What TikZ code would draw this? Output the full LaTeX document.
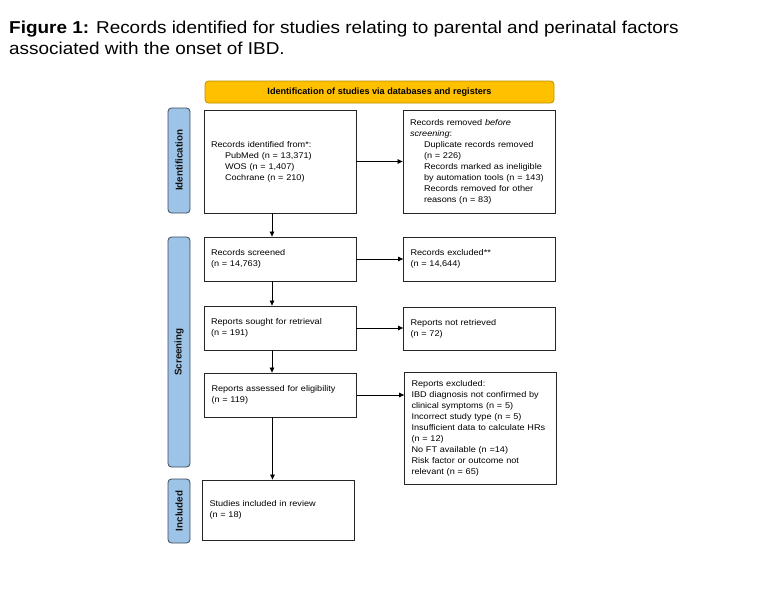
\documentclass[tikz,border=0pt]{standalone}
\usepackage{fontspec}
\setmainfont{Liberation Sans}
\newfontfamily\widesans[FakeStretch=1.1]{Liberation Sans}
\usetikzlibrary{arrows.meta}
\definecolor{prismayellow}{HTML}{FFC000}
\definecolor{prismayellowline}{HTML}{BF9000}
\definecolor{sideblue}{HTML}{9DC3E6}
\definecolor{sidebluel}{HTML}{3A4A5E}
\definecolor{sidetext}{HTML}{111111}
\begin{document}
\begin{tikzpicture}[x=1pt,y=-1pt,
  flowbox/.style={draw=black!85, line width=0.8pt, fill=white, inner xsep=7pt, inner ysep=2pt,
    minimum width=152pt, text width=138pt, align=left,
    font=\widesans\fontsize{8.3}{11}\selectfont},
  sidebar/.style={draw=sidebluel, line width=0.8pt, fill=sideblue, rounded corners=3.5pt,
    minimum width=22pt, inner sep=0pt},
  sidelabel/.style={rotate=90, font=\fontsize{9.8}{10}\selectfont\bfseries, text=sidetext},
  flowarrow/.style={line width=0.7pt, -{Triangle[length=5pt,width=4.5pt]}}
]
\useasboundingbox (0,0) rectangle (783,594);
\fill[white] (0,0) rectangle (783,594);

% caption
\node[anchor=north west, inner sep=0pt, align=left, font=\widesans\fontsize{17.2}{21}\selectfont] (caption) at (9,21)
  {\textbf{Figure 1:} Records identified for studies relating to parental and perinatal factors\\associated with the onset of IBD.};

% header
\node[draw=prismayellowline, fill=prismayellow, line width=0.8pt, rounded corners=3.5pt,
  minimum width=349pt, minimum height=22pt, font=\fontsize{9.1}{10}\selectfont\bfseries] (header) at (379.5,92)
  {Identification of studies via databases and registers};

% side bars
\node[sidebar, minimum height=105pt] (sidA) at (179,160.5) {};
\node[sidelabel] (sidAt) at (sidA.center) {Identification};
\node[sidebar, minimum height=230pt] (sidB) at (179,352) {};
\node[sidelabel] (sidBt) at (sidB.center) {Screening};
\node[sidebar, minimum height=64pt] (sidC) at (179,511) {};
\node[sidelabel] (sidCt) at (sidC.center) {Included};

% left column
\node[flowbox, minimum height=103pt] (ident) at (280,161.5)
  {Records identified from*:\\
   \hspace*{14pt}PubMed (n = 13,371)\\
   \hspace*{14pt}WOS (n = 1,407)\\
   \hspace*{14pt}Cochrane (n = 210)};
\node[flowbox, minimum height=44pt] (screen) at (280,259)
  {Records screened\\(n = 14,763)};
\node[flowbox, minimum height=44pt] (sought) at (280,328)
  {Reports sought for retrieval\\(n = 191)};
\node[flowbox, minimum height=44pt] (assess) at (280.5,395)
  {Reports assessed for eligibility\\(n = 119)};
\node[flowbox, minimum height=60pt] (incl) at (278.5,510)
  {Studies included in review\\(n = 18)};

% right column
\node[flowbox, minimum height=103pt] (removed) at (479,161.5)
  {Records removed \textit{before}\\\textit{screening}:\\
   \hspace*{14pt}Duplicate records removed\\
   \hspace*{14pt}(n = 226)\\
   \hspace*{14pt}Records marked as ineligible\\
   \hspace*{14pt}by automation tools (n = 143)\\
   \hspace*{14pt}Records removed for other\\
   \hspace*{14pt}reasons (n = 83)};
\node[flowbox, minimum height=44pt] (excl) at (479.5,259)
  {Records excluded**\\(n = 14,644)};
\node[flowbox, minimum height=43pt] (notret) at (479.5,328.5)
  {Reports not retrieved\\(n = 72)};
\node[flowbox, minimum height=112pt] (repexcl) at (480.5,428)
  {Reports excluded:\\
   IBD diagnosis not confirmed by\\
   clinical symptoms (n = 5)\\
   Incorrect study type (n = 5)\\
   Insufficient data to calculate HRs\\
   (n = 12)\\
   No FT available (n =14)\\
   Risk factor or outcome not\\
   relevant (n = 65)};

% arrows
\draw[flowarrow] (ident.east) -- (removed.west);
\draw[flowarrow] (screen.east) -- (excl.west |- screen.east);
\draw[flowarrow] (sought.east) -- (notret.west |- sought.east);
\draw[flowarrow] (assess.east) -- (repexcl.west |- assess.east);
\draw[flowarrow] ([xshift=-8pt]ident.south) -- ([xshift=-8pt]ident.south |- screen.north);
\draw[flowarrow] ([xshift=-8pt]screen.south) -- ([xshift=-8pt]screen.south |- sought.north);
\draw[flowarrow] ([xshift=-8pt]sought.south) -- ([xshift=-8pt]sought.south |- assess.north);
\draw[flowarrow] ([xshift=-8pt]assess.south) -- ([xshift=-8pt]assess.south |- incl.north);
\end{tikzpicture}
\end{document}
